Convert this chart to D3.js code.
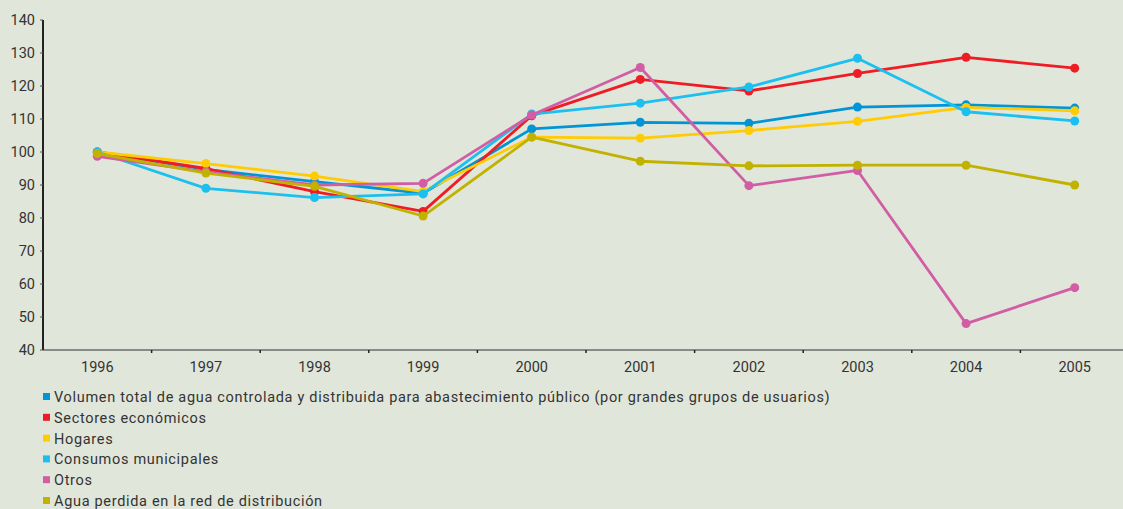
<!DOCTYPE html>
<html>
<head>
<meta charset="utf-8">
<script src="https://cdn.jsdelivr.net/npm/d3@7"></script>
<style>
  body { margin: 0; background: #e1e6da; }
  svg { display: block; }
  text { font-family: "Roboto", "DejaVu Sans Condensed", sans-serif; fill: #333; }
</style>
</head>
<body>
<div id="chart"></div>
<script>
const years = ["1996", "1997", "1998", "1999", "2000", "2001", "2002", "2003", "2004", "2005"];
const yTicks = [40, 50, 60, 70, 80, 90, 100, 110, 120, 130, 140];

const seriesNames = [
  "Volumen total de agua controlada y distribuida para abastecimiento público (por grandes grupos de usuarios)",
  "Sectores económicos",
  "Hogares",
  "Consumos municipales",
  "Otros",
  "Agua perdida en la red de distribución"
];
const seriesColors = ["#0095d6", "#ee1c25", "#ffcb05", "#1cc0f0", "#d15ea5", "#c2b200"];

const volumenTotal = [100, 94.7, 91, 87.5, 107, 109, 108.7, 113.6, 114.3, 113.3];
const sectores = [100, 95, 88, 82, 111, 122, 118.5, 123.8, 128.7, 125.4];
const hogares = [100, 96.5, 92.7, 88, 104.5, 104.2, 106.5, 109.3, 113.5, 112.5];
const municipales = [100, 89, 86.2, 87.3, 111.5, 114.8, 119.7, 128.4, 112.2, 109.4];
const otros = [98.7, 94, 90, 90.5, 111.2, 125.6, 89.8, 94.4, 48, 58.9];
const perdida = [99.5, 93.6, 89.6, 80.6, 104.5, 97.2, 95.8, 96, 96, 90];

const seriesValues = [volumenTotal, sectores, hogares, municipales, otros, perdida];

const width = 1123;
const height = 509;
const plotLeft = 43;
const plotTop = 20;
const plotBottom = 350;

const svg = d3.select("#chart")
  .append("svg")
  .attr("width", width)
  .attr("height", height);

const xScale = d3.scaleBand()
  .domain(years)
  .range([plotLeft, plotLeft + 108.6 * years.length]);

const yScale = d3.scaleLinear()
  .domain([40, 140])
  .range([plotBottom, plotTop]);

// x axis
const xAxis = svg.append("g")
  .attr("transform", `translate(0, ${plotBottom})`);
xAxis.append("line")
  .attr("x1", plotLeft).attr("x2", width)
  .attr("stroke", "#333").attr("stroke-width", 1.2);
xAxis.selectAll(".xtick")
  .data(years.slice(1))
  .enter()
  .append("line")
  .attr("x1", (d) => xScale(d)).attr("x2", (d) => xScale(d))
  .attr("y1", 0).attr("y2", 3)
  .attr("stroke", "#222").attr("stroke-width", 1.5);
xAxis.selectAll(".xlabel")
  .data(years)
  .enter()
  .append("text")
  .attr("x", (d) => xScale(d) + xScale.bandwidth() / 2)
  .attr("y", 22)
  .attr("text-anchor", "middle")
  .attr("font-size", 14.5)
  .text((d) => d);

// y axis
const yAxis = svg.append("g")
  .attr("transform", `translate(${plotLeft}, 0)`);
yAxis.append("line")
  .attr("y1", plotTop).attr("y2", plotBottom)
  .attr("stroke", "#222").attr("stroke-width", 2);
yAxis.selectAll(".ytick")
  .data(yTicks)
  .enter()
  .append("line")
  .attr("x1", -3).attr("x2", 0)
  .attr("y1", (d) => yScale(d)).attr("y2", (d) => yScale(d))
  .attr("stroke", "#555").attr("stroke-width", 1);
yAxis.selectAll(".ylabel")
  .data(yTicks)
  .enter()
  .append("text")
  .attr("x", -8)
  .attr("y", (d) => yScale(d))
  .attr("dy", "0.35em")
  .attr("text-anchor", "end")
  .attr("font-size", 14.5)
  .text((d) => d);

// lines
const cx = (i) => xScale(years[i]) + xScale.bandwidth() / 2;
const line = d3.line()
  .x((d, i) => cx(i))
  .y((d) => yScale(d));

seriesValues.forEach((vals, s) => {
  const g = svg.append("g");
  g.append("path")
    .datum(vals)
    .attr("d", line)
    .attr("fill", "none")
    .attr("stroke", seriesColors[s])
    .attr("stroke-width", 2.8)
    .attr("stroke-linejoin", "round");
  g.selectAll("circle")
    .data(vals)
    .enter()
    .append("circle")
    .attr("cx", (d, i) => cx(i))
    .attr("cy", (d) => yScale(d))
    .attr("r", 4.5)
    .attr("fill", seriesColors[s]);
});

// legend
const legend = svg.append("g")
  .attr("transform", "translate(43, 397)");
const rows = legend.selectAll("g")
  .data(seriesNames)
  .enter()
  .append("g")
  .attr("transform", (d, i) => `translate(0, ${i * 20.8})`);
rows.append("rect")
  .attr("x", 0).attr("y", -4)
  .attr("width", 7).attr("height", 7)
  .attr("fill", (d, i) => seriesColors[i]);
rows.append("text")
  .attr("x", 11)
  .attr("y", 0)
  .attr("dy", "0.35em")
  .attr("font-size", 14.5)
  .attr("letter-spacing", 0.68)
  .text((d) => d);
</script>
</body>
</html>
